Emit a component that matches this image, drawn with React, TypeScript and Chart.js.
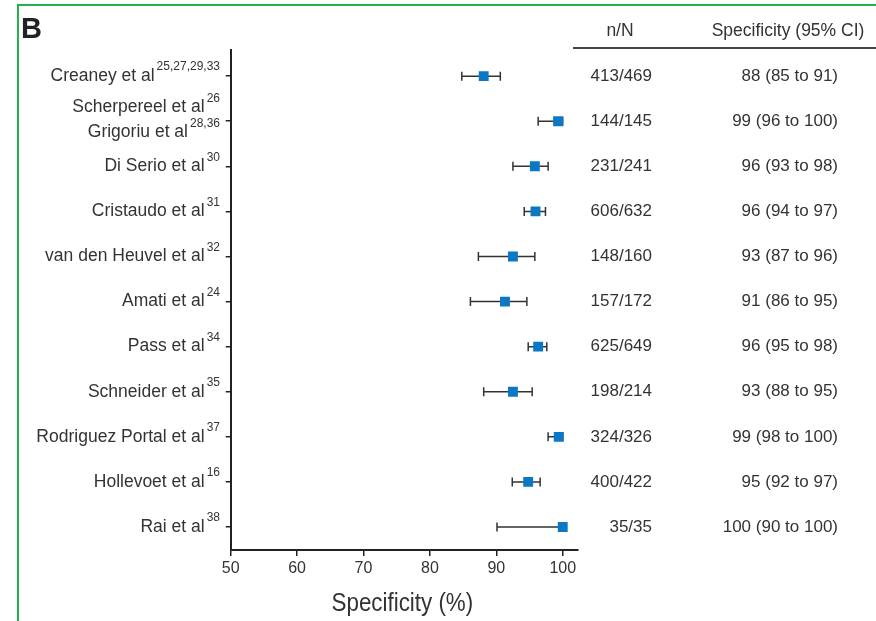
import React, { useEffect, useRef } from "react";
import { Chart, registerables } from "chart.js";

Chart.register(...registerables);

const studyLines: string[][] = [
  ["Creaney et al"],
  ["Scherpereel et al", "Grigoriu et al"],
  ["Di Serio et al"],
  ["Cristaudo et al"],
  ["van den Heuvel et al"],
  ["Amati et al"],
  ["Pass et al"],
  ["Schneider et al"],
  ["Rodriguez Portal et al"],
  ["Hollevoet et al"],
  ["Rai et al"],
];
const refs: string[][] = [
  ["25,27,29,33"],
  ["26", "28,36"],
  ["30"],
  ["31"],
  ["32"],
  ["24"],
  ["34"],
  ["35"],
  ["37"],
  ["16"],
  ["38"],
];
const estimates = [88.1, 99.3, 95.8, 95.9, 92.5, 91.3, 96.3, 92.5, 99.4, 94.8, 100];
const lowers = [84.8, 96.3, 92.5, 94.2, 87.3, 86.1, 94.8, 88.1, 97.8, 92.4, 90.1];
const uppers = [90.6, 100, 97.8, 97.4, 95.8, 94.6, 97.6, 95.4, 100, 96.6, 100];
const nN = ["413/469", "144/145", "231/241", "606/632", "148/160", "157/172", "625/649", "198/214", "324/326", "400/422", "35/35"];
const specText = [
  "88 (85 to 91)",
  "99 (96 to 100)",
  "96 (93 to 98)",
  "96 (94 to 97)",
  "93 (87 to 96)",
  "91 (86 to 95)",
  "96 (95 to 98)",
  "93 (88 to 95)",
  "99 (98 to 100)",
  "95 (92 to 97)",
  "100 (90 to 100)",
];
const xTicks = [50, 60, 70, 80, 90, 100];
const xTitle = "Specificity (%)";
const headers = ["n/N", "Specificity (95% CI)"];
const panelLetter = "B";

const FONT = "'Liberation Sans', Arial, sans-serif";
const TEXT = "#333333";
const BLUE = "#0a78c4";

const errorBarPlugin = {
  id: "errorBars",
  beforeDatasetsDraw(chart: any) {
    const { ctx, scales } = chart;
    const xs = scales.x;
    const ys = scales.y;
    ctx.save();
    ctx.strokeStyle = "#333333";
    ctx.lineWidth = 1.5;
    for (let i = 0; i < estimates.length; i++) {
      const y = ys.getPixelForValue(i);
      const x1 = xs.getPixelForValue(lowers[i]);
      const x2 = xs.getPixelForValue(uppers[i]);
      ctx.beginPath();
      ctx.moveTo(x1, y);
      ctx.lineTo(x2, y);
      ctx.moveTo(x1, y - 4.5);
      ctx.lineTo(x1, y + 4.5);
      ctx.moveTo(x2, y - 4.5);
      ctx.lineTo(x2, y + 4.5);
      ctx.stroke();
    }
    ctx.restore();
  },
};

const textPlugin = {
  id: "forestText",
  afterDraw(chart: any) {
    const { ctx, scales } = chart;
    const ys = scales.y;
    const xs = scales.x;
    ctx.save();
    // green frame
    ctx.strokeStyle = "#22b14c";
    ctx.lineWidth = 2;
    ctx.beginPath();
    ctx.moveTo(18, 621);
    ctx.lineTo(18, 5);
    ctx.lineTo(876, 5);
    ctx.stroke();

    // panel letter
    ctx.fillStyle = "#222222";
    ctx.font = `bold 29px ${FONT}`;
    ctx.textAlign = "left";
    ctx.textBaseline = "alphabetic";
    ctx.fillText(panelLetter, 21, 38);

    // axis title (condensed)
    ctx.save();
    ctx.fillStyle = TEXT;
    ctx.translate((xs.left + xs.right) / 2 - 2, 604);
    ctx.scale(0.86, 1);
    ctx.font = `26px ${FONT}`;
    ctx.textAlign = "center";
    ctx.textBaseline = "middle";
    ctx.fillText(xTitle, 0, 0);
    ctx.restore();

    // headers
    ctx.fillStyle = TEXT;
    ctx.font = `17.5px ${FONT}`;
    ctx.textBaseline = "middle";
    ctx.textAlign = "center";
    ctx.fillText(headers[0], 620, 31);
    ctx.fillText(headers[1], 788, 31);
    ctx.strokeStyle = "#444444";
    ctx.lineWidth = 2;
    ctx.beginPath();
    ctx.moveTo(573, 48);
    ctx.lineTo(876, 48);
    ctx.stroke();

    const supRight = 220;
    for (let i = 0; i < studyLines.length; i++) {
      const yc = ys.getPixelForValue(i);
      const lines = studyLines[i];
      const offsets = lines.length === 1 ? [0] : [-14, 11];
      for (let j = 0; j < lines.length; j++) {
        const y = yc + offsets[j];
        ctx.font = `12px ${FONT}`;
        const sw = ctx.measureText(refs[i][j]).width;
        ctx.textAlign = "right";
        ctx.textBaseline = "middle";
        ctx.fillText(refs[i][j], supRight, y - 9);
        ctx.font = `17.5px ${FONT}`;
        ctx.fillText(lines[j], supRight - sw - 2, y);
      }
      ctx.font = `17px ${FONT}`;
      ctx.textAlign = "right";
      ctx.fillText(nN[i], 652, yc);
      ctx.fillText(specText[i], 838, yc);
    }
    ctx.restore();
  },
};

export default function App() {
  const ref = useRef<HTMLCanvasElement | null>(null);
  useEffect(() => {
    if (!ref.current) return;
    const chart = new Chart(ref.current, {
      type: "scatter",
      data: {
        datasets: [
          {
            data: estimates.map((v, i) => ({ x: v, y: i })),
            pointStyle: "rect",
            pointRadius: 7,
            pointHoverRadius: 7,
            backgroundColor: BLUE,
            borderWidth: 0,
          },
        ],
      },
      options: {
        responsive: false,
        animation: false,
        events: [],
        layout: { padding: { left: 222.7, top: 50, right: 298, bottom: 0 } },
        plugins: { legend: { display: false }, tooltip: { enabled: false } },
        scales: {
          x: {
            type: "linear",
            position: "bottom",
            min: 50,
            max: 102.3,
            afterBuildTicks: (s: any) => {
              s.ticks = xTicks.map((v) => ({ value: v }));
            },
            afterFit: (s: any) => {
              s.height = 71;
            },
            grid: {
              display: true,
              drawOnChartArea: false,
              drawTicks: true,
              tickLength: 6,
              color: "#222222",
              lineWidth: 1.5,
            },
            border: { display: true, color: "#222222", width: 2 },
            ticks: {
              color: TEXT,
              font: { family: FONT, size: 16 },
              padding: 3,
              maxRotation: 0,
              autoSkip: false,
            },
            title: { display: false, text: xTitle },
          },
          y: {
            type: "linear",
            min: -0.58,
            max: 10.51,
            reverse: true,
            afterBuildTicks: (s: any) => {
              s.ticks = studyLines.map((_, i) => ({ value: i }));
            },
            afterFit: (s: any) => {
              s.width = 8;
            },
            grid: {
              display: true,
              drawOnChartArea: false,
              drawTicks: true,
              tickLength: 5,
              color: "#222222",
              lineWidth: 1.5,
            },
            border: { display: true, color: "#222222", width: 2 },
            ticks: { display: false },
          },
        },
      },
      plugins: [errorBarPlugin, textPlugin],
    });
    return () => chart.destroy();
  }, []);
  return (
    <div style={{ position: "fixed", left: 0, top: 0, width: 876, height: 621, background: "#fff" }}>
      <canvas ref={ref} width={876} height={621} style={{ width: 876, height: 621 }} />
    </div>
  );
}
